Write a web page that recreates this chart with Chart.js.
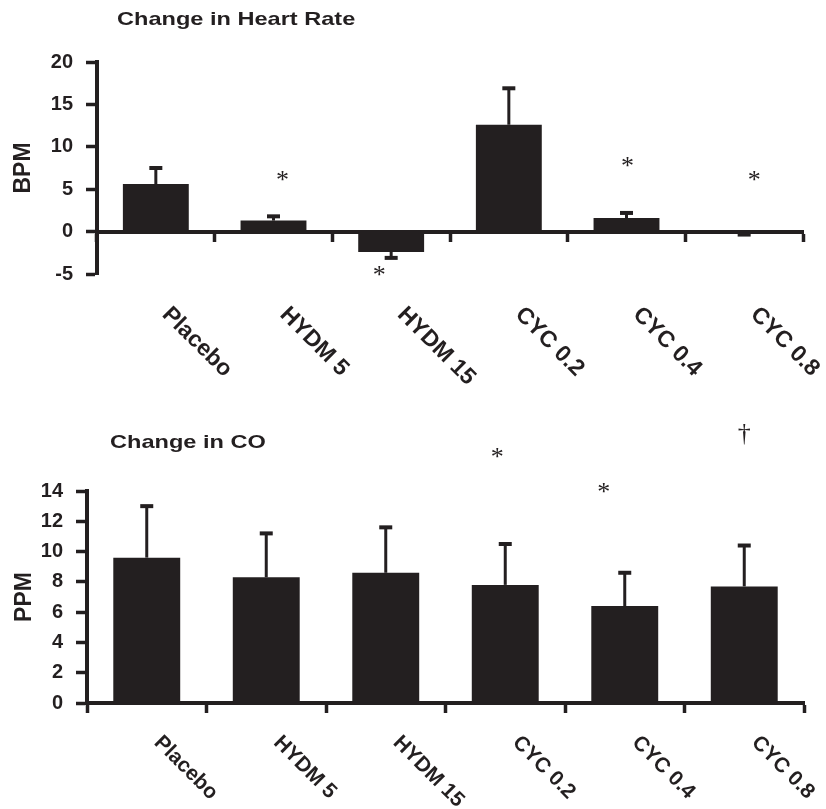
<!DOCTYPE html>
<html lang="en">
<head>
<meta charset="UTF-8">
<title>Change in Heart Rate / Change in CO</title>
<script src="https://cdn.jsdelivr.net/npm/chart.js/dist/chart.umd.min.js"></script>
<style>
  body { margin: 0; background: #fff; }
  canvas { display: block; }
</style>
</head>
<body>
<canvas id="hr" width="826" height="400"></canvas>
<canvas id="co" width="826" height="409"></canvas>
<script>
// data ------------------------------------------------------------
const categories = ['Placebo', 'HYDM 5', 'HYDM 15', 'CYC 0.2', 'CYC 0.4', 'CYC 0.8'];

const hrMean = [5.6, 1.3, -2.4, 12.6, 1.6, -0.2];
const hrSE = [1.9, 0.5, 0.7, 4.3, 0.6, 0.15];
const hrMarks = ['', '*', '*', '', '*', '*'];
const hrMarkY = [null, 6.6, -4.6, null, 8.2, 6.5];
const hrTicks = [-5, 0, 5, 10, 15, 20];

const coMean = [9.6, 8.3, 8.6, 7.8, 6.4, 7.7];
const coSE = [3.4, 2.9, 3.0, 2.7, 2.2, 2.7];
const coMarks = ['', '', '', '*', '*', '\u2020'];
const coMarkY = [null, null, null, 16.5, 14.2, 17.7];
const coTicks = [0, 2, 4, 6, 8, 10, 12, 14];

const INK = '#231f20';

// error bars, significance marks, slanted labels and the panel title
const extras = {
    id: 'extras',
    afterDatasetsDraw(chart, args, opts) {
        const { ctx, scales: { x, y } } = chart;
        const meta = chart.getDatasetMeta(0);
        ctx.save();
        ctx.fillStyle = INK;
        ctx.strokeStyle = INK;

        opts.mean.forEach((m, i) => {
            const end = m < 0 ? m - opts.se[i] : m + opts.se[i];
            const px = meta.data[i].x;
            const y0 = y.getPixelForValue(m);
            const y1 = y.getPixelForValue(end);
            ctx.lineWidth = 3;
            ctx.beginPath();
            ctx.moveTo(px, y0);
            ctx.lineTo(px, y1);
            ctx.stroke();
            ctx.fillRect(px - 6.5, y1 - 2, 13, 4);
        });

        ctx.font = '26px "Liberation Serif"';
        ctx.textAlign = 'center';
        ctx.textBaseline = 'alphabetic';
        opts.marks.forEach((t, i) => {
            if (!t) return;
            const tm = ctx.measureText(t);
            const cx = meta.data[i].x + opts.markShift[i];
            const cy = y.getPixelForValue(opts.markY[i]);
            ctx.fillText(t, cx, cy + (tm.actualBoundingBoxAscent - tm.actualBoundingBoxDescent) / 2);
        });

        ctx.font = 'bold ' + opts.labelSize + 'px "Liberation Sans"';
        ctx.textAlign = 'left';
        ctx.textBaseline = 'top';
        chart.data.labels.forEach((lab, i) => {
            ctx.save();
            ctx.translate(x.getPixelForValue(i) + 18, opts.labelY);
            ctx.rotate(Math.PI / 4);
            ctx.fillText(lab, 0, 0);
            ctx.restore();
        });

        ctx.font = 'bold 19px "Liberation Sans"';
        ctx.textBaseline = 'middle';
        ctx.translate(opts.titleX, opts.titleY);
        ctx.scale(1.24, 1);
        ctx.fillText(opts.title, 0, 0);
        ctx.restore();
    }
};

function panel(id, p) {
    return new Chart(document.getElementById(id), {
        type: 'bar',
        data: {
            labels: categories,
            datasets: [{
                data: p.mean,
                backgroundColor: INK,
                borderWidth: 0,
                barPercentage: 0.56,
                categoryPercentage: 1
            }]
        },
        options: {
            responsive: false,
            animation: false,
            layout: { padding: p.padding },
            scales: {
                x: {
                    position: { y: 0 },
                    offset: true,
                    border: { color: INK, width: 4 },
                    grid: { offset: true, drawOnChartArea: false, drawTicks: true, tickLength: 8, tickWidth: 3.5, color: INK },
                    ticks: { display: false }
                },
                y: {
                    min: p.ticks[0],
                    max: p.ticks[p.ticks.length - 1],
                    afterBuildTicks: (s) => { s.ticks = p.ticks.map(v => ({ value: v })); },
                    afterFit: (s) => { s.width = p.axisX; },
                    border: { color: INK, width: 4 },
                    grid: { drawOnChartArea: false, drawTicks: true, tickLength: 11, tickWidth: 3.5, color: INK },
                    ticks: { color: INK, padding: 13, font: { family: 'Liberation Sans', size: p.tickSize, weight: 'bold' } },
                    title: {
                        display: true,
                        text: p.yTitle,
                        color: INK,
                        padding: { top: p.yTitlePad, bottom: 0 },
                        font: { family: 'Liberation Sans', size: 23, weight: 'bold' }
                    }
                }
            },
            plugins: {
                legend: { display: false },
                tooltip: { enabled: false },
                extras: {
                    mean: p.mean, se: p.se,
                    marks: p.marks, markY: p.markY, markShift: p.markShift,
                    labelSize: p.labelSize, labelY: p.labelY,
                    title: p.title, titleX: p.titleX, titleY: p.titleY
                }
            }
        },
        plugins: [extras]
    });
}

panel('hr', {
    mean: hrMean, se: hrSE, marks: hrMarks, markY: hrMarkY, ticks: hrTicks,
    markShift: [0, 9, -12, 0, 1, 10],
    yTitle: 'BPM', yTitlePad: 10, axisX: 97, tickSize: 20,
    padding: { left: 0, top: 62, right: 23, bottom: 126 },
    labelSize: 23, labelY: 303,
    title: 'Change in Heart Rate', titleX: 117, titleY: 20
});

panel('co', {
    mean: coMean, se: coSE, marks: coMarks, markY: coMarkY, ticks: coTicks,
    markShift: [0, 0, 0, -8, -21, 0],
    yTitle: 'PPM', yTitlePad: 11, axisX: 87, tickSize: 20,
    padding: { left: 0, top: 91, right: 22, bottom: 106 },
    labelSize: 21, labelY: 332,
    title: 'Change in CO', titleX: 110, titleY: 43
});
</script>
</body>
</html>
